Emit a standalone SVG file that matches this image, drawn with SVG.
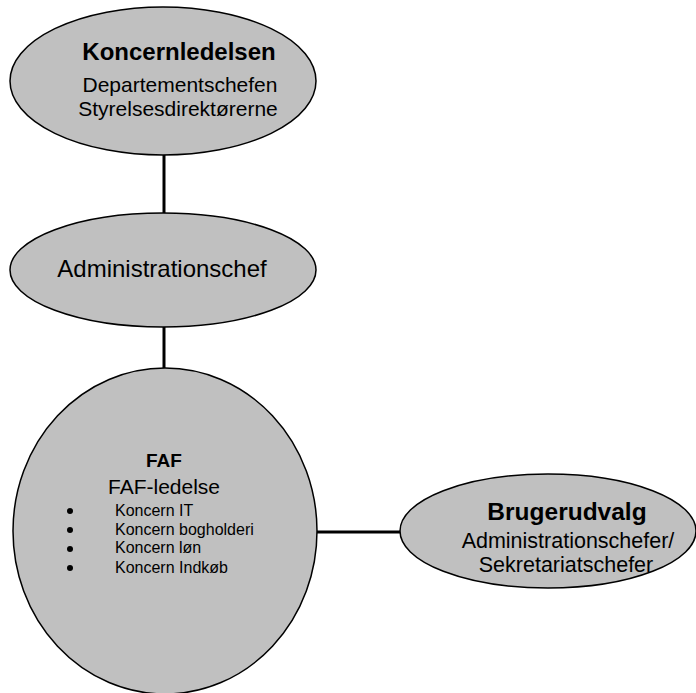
<svg xmlns="http://www.w3.org/2000/svg" width="696" height="693" viewBox="0 0 696 693">
<style>
.node{fill:#c0c0c0;stroke:#000;stroke-width:1.5}
.conn{stroke:#000;stroke-width:3;fill:none}
text{font-family:"Liberation Sans",Arial,sans-serif;fill:#000}
.b{font-weight:bold}
.m{text-anchor:middle}
</style>
<rect width="696" height="693" fill="#fff"/>
<g id="connectors">
<line class="conn" x1="164" y1="155" x2="164" y2="213"/>
<line class="conn" x1="164" y1="327" x2="164" y2="368"/>
<line class="conn" x1="317" y1="532" x2="401" y2="532"/>
</g>
<g id="koncernledelsen">
<ellipse class="node" cx="163" cy="81" rx="153" ry="74"/>
<text class="b m" x="179" y="60" font-size="24">Koncernledelsen</text>
<text class="m" x="180" y="92" font-size="21">Departementschefen</text>
<text class="m" x="178" y="116" font-size="21">Styrelsesdirektørerne</text>
</g>
<g id="administrationschef">
<ellipse class="node" cx="163" cy="270" rx="153" ry="57"/>
<text class="m" x="162" y="277" font-size="24">Administrationschef</text>
</g>
<g id="faf">
<ellipse class="node" cx="165" cy="531" rx="152" ry="163"/>
<text class="b m" x="164" y="467" font-size="19">FAF</text>
<text class="m" x="164" y="494" font-size="21">FAF-ledelse</text>
<circle cx="70" cy="511" r="3"/>
<circle cx="70" cy="530" r="3"/>
<circle cx="70" cy="549" r="3"/>
<circle cx="70" cy="568" r="3"/>
<text x="115" y="516" font-size="16">Koncern IT</text>
<text x="115" y="535" font-size="16">Koncern bogholderi</text>
<text x="115" y="553" font-size="16">Koncern løn</text>
<text x="115" y="573" font-size="16">Koncern Indkøb</text>
</g>
<g id="brugerudvalg">
<ellipse class="node" cx="548" cy="531" rx="148" ry="57"/>
<text class="b m" x="567" y="520" font-size="24.5">Brugerudvalg</text>
<text class="m" x="568" y="548" font-size="21.5">Administrationschefer/</text>
<text class="m" x="566" y="572" font-size="21.5">Sekretariatschefer</text>
</g>
</svg>
